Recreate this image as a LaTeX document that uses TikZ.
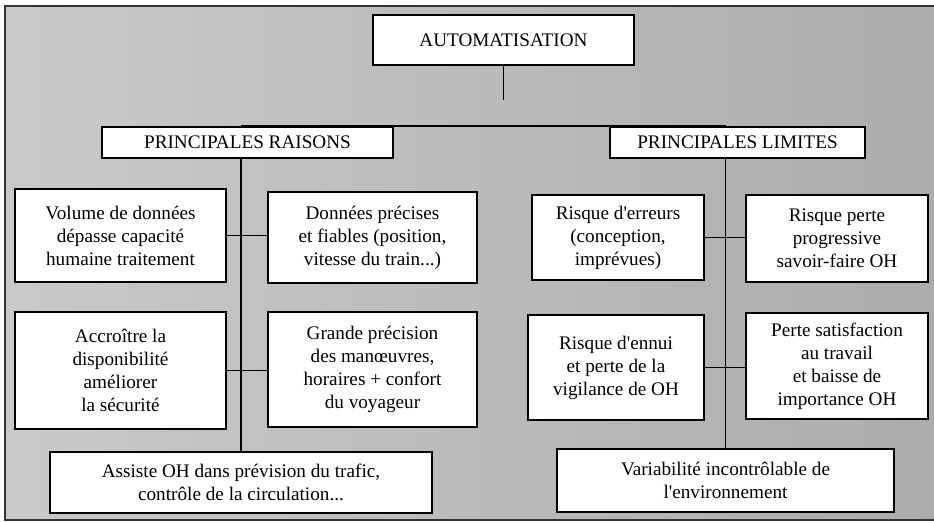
\documentclass[tikz,border=0pt]{standalone}
\usepackage{fontspec}
\setmainfont{Liberation Serif}
\begin{document}
\begin{tikzpicture}[x=1pt,y=-1pt,
  box/.style={draw=black,line width=2.2pt,fill=white,align=center,inner sep=0pt,
    font=\fontsize{19.2}{23}\selectfont},
  conn/.style={draw=black,line width=1.5pt}]
\useasboundingbox (0,0) rectangle (934,522);
\shade[left color=gray!42,middle color=gray!25,right color=gray!65] (5,6) rectangle (934,520);
\draw[line width=1.6pt,black!80] (934,6) -- (5,6) -- (5,520) -- (934,520);
% boxes
\node[box,minimum width=261pt,minimum height=50pt] (auto) at (503.5,40) {AUTOMATISATION};
\node[box,minimum width=291pt,minimum height=31pt] (rais) at (247.5,142.5) {PRINCIPALES RAISONS};
\node[box,minimum width=255pt,minimum height=31pt] (lim) at (737.5,142.5) {PRINCIPALES LIMITES};
\node[box,minimum width=211pt,minimum height=93pt] (l1) at (120.5,235.5) {Volume de données\\dépasse capacité\\humaine traitement};
\node[box,minimum width=209pt,minimum height=91pt] (l2) at (372.5,237.5) {Données précises\\et fiables (position,\\vitesse du train...)};
\node[box,minimum width=211pt,minimum height=117pt] (l3) at (120.5,370.5) {Accroître la\\disponibilité\\améliorer\\la sécurité};
\node[box,minimum width=209pt,minimum height=115pt] (l4) at (372.5,369.5) {Grande précision\\des manœuvres,\\horaires + confort\\du voyageur};
\node[box,minimum width=382pt,minimum height=61pt] (l5) at (241,482.5) {Assiste OH dans prévision du trafic,\\contrôle de la circulation...};
\node[box,minimum width=172pt,minimum height=85pt] (r1) at (618,237.5) {Risque d\textquotesingle erreurs\\(conception,\\imprévues)};
\node[box,minimum width=182pt,minimum height=87pt] (r2) at (837,238.5) {Risque perte\\progressive\\savoir-faire OH};
\node[box,minimum width=176pt,minimum height=105pt] (r3) at (616,367.5) {Risque d\textquotesingle ennui\\et perte de la\\vigilance de OH};
\node[box,minimum width=182pt,minimum height=106pt] (r4) at (837,366) {Perte satisfaction\\au travail\\et baisse de\\importance OH};
\node[box,minimum width=337pt,minimum height=63pt] (r5) at (725.5,480.5) {Variabilité incontrôlable de\\l\textquotesingle environnement};
% connectors
\coordinate (bus) at (0,100);
\draw[conn] (auto.south) -- (auto.south |- bus);
\draw[conn] (rais.north -| l5.north) -- (rais.north -| l5.north |- bus) -- (lim.north -| r5.north |- bus) -- (lim.north -| r5.north);
\draw[conn] (rais.south -| l5.north) -- (l5.north);
\draw[conn] (lim.south -| r5.north) -- (r5.north);
\draw[conn] (l1.east) -- (l1.east -| l2.west);
\draw[conn] (l3.east) -- (l3.east -| l4.west);
\draw[conn] (r1.east) -- (r1.east -| r2.west);
\draw[conn] (r3.east) -- (r3.east -| r4.west);
\end{tikzpicture}
\end{document}
